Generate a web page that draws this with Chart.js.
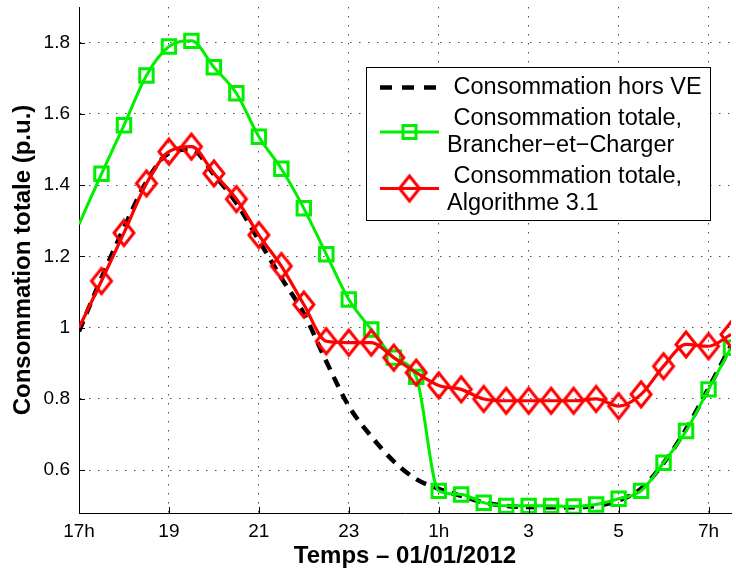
<!DOCTYPE html>
<html>
<head>
<meta charset="utf-8">
<script src="https://cdn.jsdelivr.net/npm/chart.js@4/dist/chart.umd.min.js"></script>
<style>
  html, body { margin: 0; padding: 0; background: #fff; }
  #wrap { width: 736px; height: 572px; }
</style>
</head>
<body>
<div id="wrap"><canvas id="chart"></canvas></div>
<script>
// pas d'une demi-heure, de 17h à 7h30 le lendemain (heures comptées depuis minuit)
const hours = [17, 17.5, 18, 18.5, 19, 19.5, 20, 20.5, 21, 21.5, 22, 22.5, 23, 23.5, 24,
  24.5, 25, 25.5, 26, 26.5, 27, 27.5, 28, 28.5, 29, 29.5, 30, 30.5, 31, 31.5];

// consommation hors VE (pointillés noirs)
const horsVE = [0.99, 1.14, 1.28, 1.41, 1.49, 1.50, 1.43, 1.35, 1.245, 1.14, 1.04, 0.905, 0.78, 0.695, 0.625,
  0.575, 0.548, 0.528, 0.51, 0.50, 0.497, 0.496, 0.496, 0.50, 0.515, 0.548, 0.62, 0.715, 0.83, 0.95];

// consommation totale, Brancher-et-Charger (vert)
const brancherCharger = [1.29, 1.432, 1.568, 1.708, 1.789, 1.805, 1.731, 1.658, 1.536, 1.446, 1.335, 1.206, 1.079, 0.995, 0.916,
  0.862, 0.542, 0.532, 0.509, 0.50, 0.50, 0.50, 0.498, 0.504, 0.52, 0.542, 0.621, 0.71, 0.827, 0.944];

// consommation totale, Algorithme 3.1 (rouge)
const algorithme31 = [1.0, 1.131, 1.266, 1.405, 1.494, 1.508, 1.433, 1.361, 1.26, 1.173, 1.065, 0.962, 0.958, 0.958, 0.916,
  0.874, 0.838, 0.827, 0.80, 0.795, 0.795, 0.795, 0.795, 0.80, 0.78, 0.813, 0.892, 0.953, 0.948, 0.981];

const xTickValues = [17, 19, 21, 23, 25, 27, 29, 31];
const xTickLabels = ['17h', '19', '21', '23', '1h', '3', '5', '7h'];
const yTickValues = [0.6, 0.8, 1.0, 1.2, 1.4, 1.6, 1.8];

const legendLines = [
  [' Consommation hors VE'],
  [' Consommation totale,', 'Brancher\u2212et\u2212Charger'],
  [' Consommation totale,', 'Algorithme 3.1']
];

const GREEN = '#00ee00';
const RED = '#ff0000';
const FONT = '"Liberation Sans", Arial, Helvetica, sans-serif';

Chart.defaults.font.family = FONT;
Chart.defaults.color = '#000';

const toPoints = ys => hours.map((h, i) => ({ x: h, y: ys[i] }));

// losange un peu plus haut que large, comme le marqueur 'd' de Matlab
function diamond(hw, hh, lw, color) {
  const c = document.createElement('canvas');
  c.width = Math.ceil(2 * hw + 2 * lw);
  c.height = Math.ceil(2 * hh + 2 * lw);
  const g = c.getContext('2d');
  const cx = c.width / 2, cy = c.height / 2;
  g.strokeStyle = color;
  g.lineWidth = lw;
  g.beginPath();
  g.moveTo(cx, cy - hh);
  g.lineTo(cx + hw, cy);
  g.lineTo(cx, cy + hh);
  g.lineTo(cx - hw, cy);
  g.closePath();
  g.stroke();
  return c;
}
const redDiamond = diamond(10, 12.5, 3, RED);

// graduations intérieures + légende encadrée dans le graphique
const matlabLook = {
  id: 'matlabLook',
  afterDraw(chart) {
    const { ctx, chartArea: a, scales: { x, y } } = chart;
    ctx.save();
    ctx.strokeStyle = '#000';
    ctx.lineWidth = 1;
    ctx.beginPath();
    xTickValues.forEach(v => {
      const px = Math.round(x.getPixelForValue(v)) + 0.5;
      ctx.moveTo(px, a.bottom);
      ctx.lineTo(px, a.bottom - 6);
    });
    yTickValues.forEach(v => {
      const py = Math.round(y.getPixelForValue(v)) + 0.5;
      ctx.moveTo(a.left, py);
      ctx.lineTo(a.left + 6, py);
    });
    ctx.stroke();

    // cadre
    ctx.fillStyle = '#fff';
    ctx.fillRect(366.5, 67.5, 344, 153);
    ctx.strokeRect(366.5, 67.5, 344, 153);

    const symY = [87.5, 132, 188.5];
    const textY = [[87.5], [118.5, 146], [177, 203.5]];

    // échantillon pointillé noir
    ctx.lineWidth = 4.5;
    ctx.setLineDash([12, 10]);
    ctx.beginPath();
    ctx.moveTo(380, symY[0]);
    ctx.lineTo(438, symY[0]);
    ctx.stroke();
    ctx.setLineDash([]);

    // échantillon vert avec carré
    ctx.strokeStyle = GREEN;
    ctx.lineWidth = 3;
    ctx.beginPath();
    ctx.moveTo(380, symY[1]);
    ctx.lineTo(439, symY[1]);
    ctx.stroke();
    ctx.strokeRect(409.5 - 6.5, symY[1] - 6.5, 13, 13);

    // échantillon rouge avec losange
    ctx.strokeStyle = RED;
    ctx.beginPath();
    ctx.moveTo(380, symY[2]);
    ctx.lineTo(439, symY[2]);
    ctx.stroke();
    ctx.drawImage(redDiamond, 409.5 - redDiamond.width / 2, symY[2] - redDiamond.height / 2);

    ctx.fillStyle = '#000';
    ctx.font = '23.5px ' + FONT;
    ctx.textAlign = 'left';
    ctx.textBaseline = 'middle';
    legendLines.forEach((lines, i) => {
      lines.forEach((t, j) => ctx.fillText(t, 447, textY[i][j]));
    });
    ctx.restore();
  }
};

new Chart(document.getElementById('chart'), {
  type: 'line',
  data: {
    datasets: [
      {
        label: 'Consommation hors VE',
        data: toPoints(horsVE),
        borderColor: '#000',
        borderWidth: 4.5,
        borderDash: [11, 8],
        pointRadius: 0,
        cubicInterpolationMode: 'monotone',
        order: 3
      },
      {
        label: 'Consommation totale, Brancher-et-Charger',
        data: toPoints(brancherCharger),
        borderColor: GREEN,
        borderWidth: 3,
        pointStyle: 'rect',
        pointRadius: c => (c.dataIndex === 0 ? 0 : 9.5),
        pointBorderWidth: 3,
        pointBorderColor: GREEN,
        pointBackgroundColor: 'rgba(0,0,0,0)',
        cubicInterpolationMode: 'monotone',
        order: 2
      },
      {
        label: 'Consommation totale, Algorithme 3.1',
        data: toPoints(algorithme31),
        borderColor: RED,
        borderWidth: 3.2,
        pointStyle: redDiamond,
        pointRadius: c => (c.dataIndex === 0 ? 0 : 12),
        cubicInterpolationMode: 'monotone',
        order: 1
      }
    ]
  },
  options: {
    responsive: true,
    maintainAspectRatio: false,
    animation: false,
    layout: { autoPadding: false, padding: { top: 7, right: 5, left: 0, bottom: 0 } },
    plugins: {
      legend: { display: false },
      tooltip: { enabled: false }
    },
    scales: {
      x: {
        type: 'linear',
        min: 17,
        max: 31.5,
        afterBuildTicks: s => { s.ticks = xTickValues.map(v => ({ value: v })); },
        afterFit: s => { s.height = 59; s.paddingLeft = 0; s.paddingRight = 0; },
        ticks: {
          callback: (v, i) => xTickLabels[i],
          font: { size: 19 },
          color: '#000',
          padding: 7,
          maxRotation: 0,
          autoSkip: false
        },
        grid: { color: 'rgba(0,0,0,0.7)', lineWidth: 1, drawTicks: false },
        border: { color: '#000', width: 1, dash: [1.5, 7.5] },
        title: {
          display: true,
          text: 'Temps \u2013 01/01/2012',
          font: { size: 24, weight: 'bold' },
          color: '#000',
          padding: { top: 0, bottom: 1 }
        }
      },
      y: {
        type: 'linear',
        min: 0.48,
        max: 1.9,
        afterBuildTicks: s => { s.ticks = yTickValues.map(v => ({ value: v })); },
        afterFit: s => { s.width = 79; s.paddingTop = 0; s.paddingBottom = 0; },
        ticks: {
          callback: v => String(+v.toFixed(1)),
          font: { size: 19 },
          color: '#000',
          padding: 9
        },
        grid: { color: 'rgba(0,0,0,0.7)', lineWidth: 1, drawTicks: false },
        border: { color: '#000', width: 1, dash: [1.5, 7.5] },
        title: {
          display: true,
          text: 'Consommation totale (p.u.)',
          font: { size: 24, weight: 'bold' },
          color: '#000',
          padding: { top: 9, bottom: 0 }
        }
      }
    }
  },
  plugins: [matlabLook]
});
</script>
</body>
</html>
